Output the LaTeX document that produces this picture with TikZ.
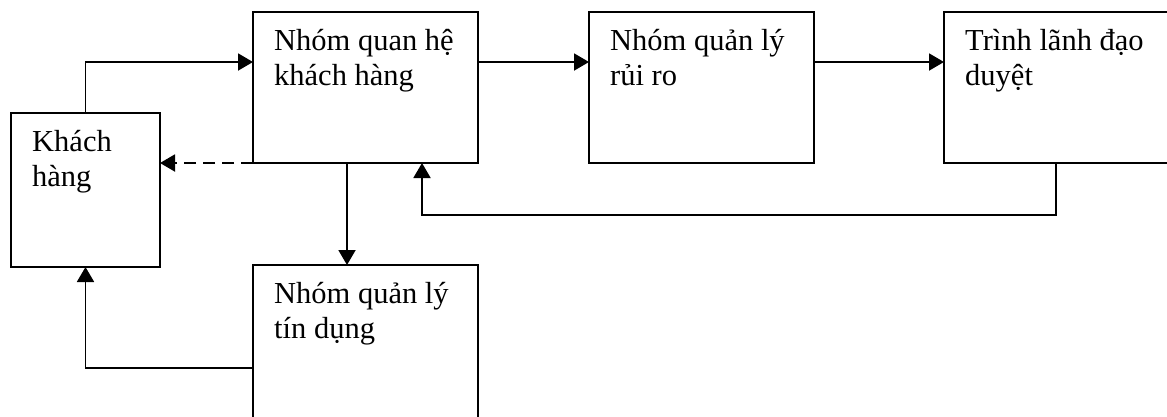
\documentclass[tikz,border=0pt]{standalone}
\usepackage{fontspec}
\setmainfont{Liberation Serif}
\usetikzlibrary{arrows.meta,calc}
\begin{document}
\begin{tikzpicture}[x=1pt,y=-1pt,
  boxnode/.style={draw=black,line width=1.5pt,rectangle,anchor=north west,inner sep=0pt,outer sep=0pt},
  txt/.style={anchor=base west,inner sep=0pt,font=\fontsize{30.5}{35}\selectfont},
  conn/.style={line width=1.9pt,-{Triangle[length=15pt,width=17pt]}},
  dconn/.style={conn,dash pattern=on 12pt off 7pt}]
\useasboundingbox (0,0) rectangle (1167,416);
\clip (0,0) rectangle (1167,416);
\fill[white] (0,0) rectangle (1167,416);
% boxes
\node[boxnode,minimum width=149pt,minimum height=154pt] (kh) at (11,113) {};
\node[boxnode,minimum width=225pt,minimum height=151pt] (qh) at (253,12) {};
\node[boxnode,minimum width=225pt,minimum height=151pt] (rr) at (589,12) {};
\node[boxnode,minimum width=226pt,minimum height=151pt] (ld) at (944,12) {};
\node[boxnode,minimum width=225pt,minimum height=170pt] (td) at (253,265) {};
% texts
\node[txt] (khT) at ($(kh.north west)+(21,38)$) {\parbox[t]{140pt}{Khách\\hàng}};
\node[txt] (qhT) at ($(qh.north west)+(21,38)$) {\parbox[t]{210pt}{Nhóm quan hệ\\khách hàng}};
\node[txt] (rrT) at ($(rr.north west)+(21,38)$) {\parbox[t]{210pt}{Nhóm quản lý\\rủi ro}};
\node[txt] (ldT) at ($(ld.north west)+(21,38)$) {\parbox[t]{210pt}{Trình lãnh đạo\\duyệt}};
\node[txt] (tdT) at ($(td.north west)+(21,38)$) {\parbox[t]{210pt}{Nhóm quản lý\\tín dụng}};
% connectors
\draw[conn] (kh.north) |- ($(qh.north west)+(0,50)$);
\draw[conn] ($(qh.north east)+(0,50)$) -- ($(rr.north west)+(0,50)$);
\draw[conn] ($(rr.north east)+(0,50)$) -- ($(ld.north west)+(0,50)$);
\draw[conn] ($(ld.south west)+(112,0)$) -- ++(0,52) -| ($(qh.south west)+(169,0)$);
\draw[conn] ($(qh.south west)+(94,0)$) -- ($(td.north west)+(94,0)$);
\draw[conn] ($(td.north west)+(0,103)$) -| (kh.south);
\draw[dconn] (qh.south west) -- (kh.east |- qh.south west);
\end{tikzpicture}
\end{document}
